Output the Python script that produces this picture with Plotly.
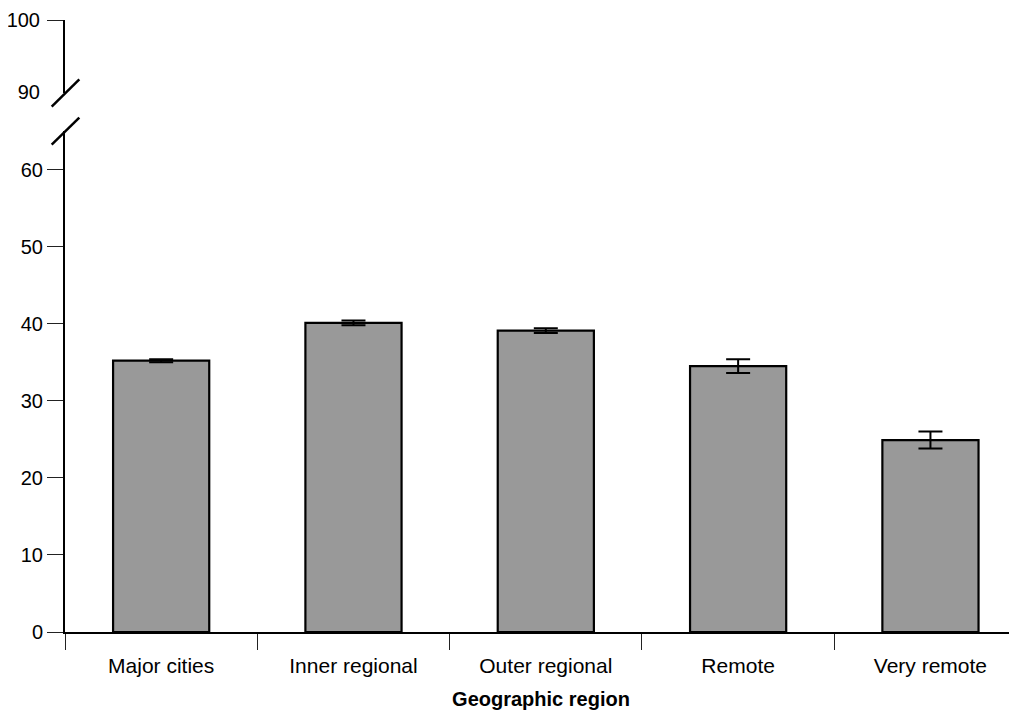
import plotly.graph_objects as go

categories = ["Major cities", "Inner regional", "Outer regional", "Remote", "Very remote"]
values = [35.2, 40.1, 39.1, 34.5, 24.9]
errors = [0.2, 0.3, 0.3, 0.9, 1.1]
lower_ticks = [0, 10, 20, 30, 40, 50, 60]
upper_ticks = [90, 100]

FONT = "Arial, Liberation Sans, sans-serif"

fig = go.Figure()
fig.add_trace(go.Bar(
    x=categories, y=values, width=0.5,
    marker=dict(color="#999999", line=dict(color="black", width=2.2)),
    error_y=dict(type="data", array=errors, visible=True, color="black", thickness=2, width=12),
    showlegend=False, yaxis="y",
))
# empty trace so the upper (broken) axis segment is drawn
fig.add_trace(go.Scatter(x=[], y=[], yaxis="y2", showlegend=False))

# page body has an 8px margin, so the figure is sized to fit the window
W, H = 1009, 708
t, b, l = 12, 84, 57
ph = H - t - b
base = H - b  # pixel row of value 0 within the figure
lower_top = (base - (131 - 8)) / ph
upper_bottom = (base - (93 - 8)) / ph

fig.update_layout(
    width=W, height=H,
    margin=dict(l=l, r=0, t=t, b=b),
    plot_bgcolor="white", paper_bgcolor="white",
    font=dict(family=FONT, size=20, color="black"),
    bargap=0.5,
    xaxis=dict(
        range=[-0.5, 4.45], type="category", tickson="boundaries",
        ticks="outside", ticklen=16, tickwidth=1, tickcolor="#222",
        showline=True, linecolor="black", linewidth=2,
        showgrid=False, zeroline=False, anchor="y", automargin=False,
        tickfont=dict(size=21), ticklabelstandoff=14,
        title=dict(text="<b>Geographic region</b>", font=dict(size=20), standoff=16),
    ),
    yaxis=dict(
        domain=[0, lower_top], range=[0, 65],
        tickvals=lower_ticks, ticks="outside", ticklen=16, tickwidth=1, tickcolor="#222",
        showline=True, linecolor="black", linewidth=2, automargin=False,
        showgrid=False, zeroline=False, anchor="x", tickfont=dict(size=20),
    ),
    yaxis2=dict(
        domain=[upper_bottom, 1], range=[89.9, 100],
        tickvals=upper_ticks, ticks="", ticklen=16,
        minor=dict(tickvals=[100], ticks="outside", ticklen=16, tickwidth=1, tickcolor="#222"),
        showline=True, linecolor="black", linewidth=2, automargin=False,
        showgrid=False, zeroline=False, anchor="x", tickfont=dict(size=20),
        ticklabelstandoff=19,
    ),
)

# axis-break slashes (paper-referenced so they are not clipped)
for yanchor, y0, y1 in [(lower_top, -13.6, 13.4), (upper_bottom, -13.7, 13.7)]:
    fig.add_shape(
        type="line", xref="paper", yref="paper",
        xsizemode="pixel", xanchor=0, x0=-13.3, x1=14.3,
        ysizemode="pixel", yanchor=yanchor, y0=y0, y1=y1,
        line=dict(color="black", width=2.5),
    )

fig.write_html("out.html")
